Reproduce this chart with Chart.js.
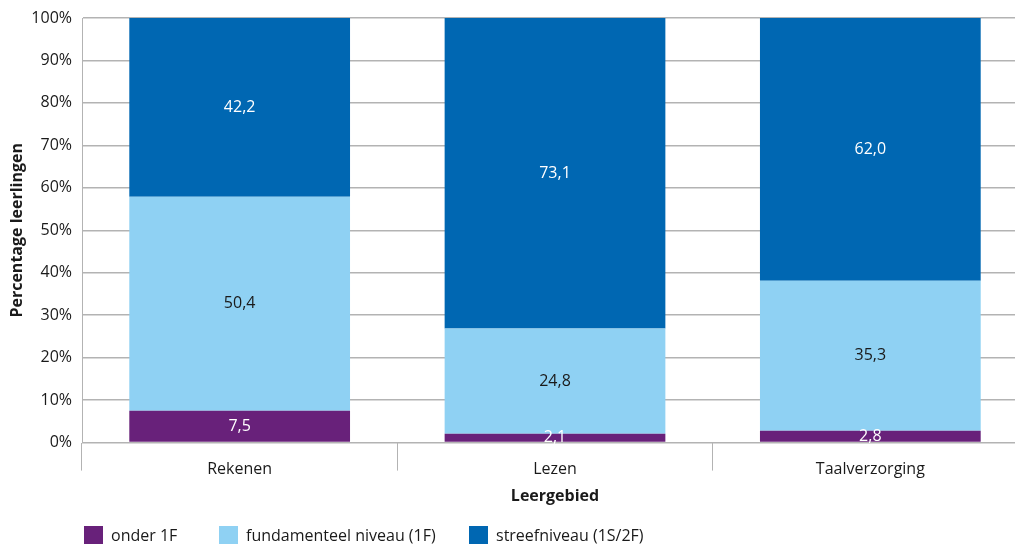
<!DOCTYPE html>
<html>
<head>
<meta charset="utf-8">
<script src="https://cdn.jsdelivr.net/npm/chart.js@4/dist/chart.umd.min.js"></script>
<style>
  html, body { margin: 0; padding: 0; background: #fff; overflow: hidden; }
  .wrap { position: relative; width: 1015px; height: 544px; overflow: hidden; }
  canvas { position: absolute; left: 0; top: 0; }
  .legend { position: absolute; top: 526px; left: 0; font: 16px "Open Sans", sans-serif; color: #1a1a1a; }
  .legend span.item { position: absolute; white-space: nowrap; line-height: 18px; }
  .legend i { position: absolute; top: 0; width: 19px; height: 18px; }
</style>
</head>
<body>
<div class="wrap">
  <canvas id="chart" width="1030" height="544"></canvas>
  <div class="legend" id="legend"></div>
</div>
<script>
const categories = ["Rekenen", "Lezen", "Taalverzorging"];
const seriesNames = ["onder 1F", "fundamenteel niveau (1F)", "streefniveau (1S/2F)"];
const onder1F = [7.5, 2.1, 2.8];
const fundamenteel = [50.4, 24.8, 35.3];
const streef = [42.2, 73.1, 62.0];
const seriesColors = ["#68217a", "#8fd1f3", "#0067b2"];
const labelColors = ["#ffffff", "#1a1a1a", "#ffffff"];

const FONT = '"Open Sans", sans-serif';
const GRID = "#b3b3b3";

// values in the bars, written at the middle of each segment
const barValues = {
  id: "barValues",
  afterDatasetsDraw(chart) {
    const { ctx, chartArea } = chart;
    ctx.save();
    ctx.font = `16px ${FONT}`;
    ctx.textAlign = "center";
    ctx.textBaseline = "middle";
    chart.data.datasets.forEach((ds, i) => {
      chart.getDatasetMeta(i).data.forEach((bar, j) => {
        const top = Math.max(bar.y, chartArea.top);
        const y = (top + bar.base) / 2;
        ctx.fillStyle = labelColors[i];
        ctx.fillText(ds.data[j].toFixed(1).replace(".", ","), bar.x, y);
      });
    });
    ctx.restore();
  },
};

new Chart(document.getElementById("chart"), {
  type: "bar",
  data: {
    labels: categories,
    datasets: [onder1F, fundamenteel, streef].map((data, i) => ({
      label: seriesNames[i],
      data: data,
      backgroundColor: seriesColors[i],
      categoryPercentage: 0.7,
      barPercentage: 1.0,
    })),
  },
  options: {
    responsive: false,
    animation: false,
    layout: { padding: { top: 4, right: 2, bottom: 38, left: 0 } },
    scales: {
      x: {
        stacked: true,
        border: { color: GRID, width: 1 },
        grid: {
          offset: true,
          drawOnChartArea: false,
          drawTicks: true,
          tickLength: 28,
          color: GRID,
        },
        ticks: {
          padding: -11,
          color: "#1a1a1a",
          font: { size: 16, family: FONT },
        },
        title: {
          display: true,
          text: "Leergebied",
          color: "#1a1a1a",
          padding: { top: 19, bottom: 0 },
          font: { size: 16, weight: "bold", family: FONT },
        },
      },
      y: {
        stacked: true,
        min: 0,
        max: 100,
        border: { color: GRID, width: 1 },
        grid: { color: GRID, drawTicks: false, lineWidth: 1.5 },
        afterFit: (scale) => { scale.width = 82; },
        ticks: {
          stepSize: 10,
          padding: 10,
          color: "#1a1a1a",
          font: { size: 16, family: FONT, lineHeight: 1.0 },
          callback: (value) => `${value}%`,
        },
        title: {
          display: true,
          text: "Percentage leerlingen",
          color: "#1a1a1a",
          padding: { top: 8, bottom: 0 },
          font: { size: 16, weight: "bold", family: FONT },
        },
      },
    },
    plugins: {
      legend: { display: false },
      tooltip: { enabled: false },
    },
  },
  plugins: [barValues],
});

// legend under the chart
const legendPos = [84, 219, 469];
const legendEl = document.getElementById("legend");
seriesNames.forEach((name, i) => {
  const item = document.createElement("span");
  item.className = "item";
  item.style.left = legendPos[i] + "px";
  item.innerHTML = `<i style="background:${seriesColors[i]}"></i><span style="margin-left:27px">${name}</span>`;
  legendEl.appendChild(item);
});
</script>
</body>
</html>
